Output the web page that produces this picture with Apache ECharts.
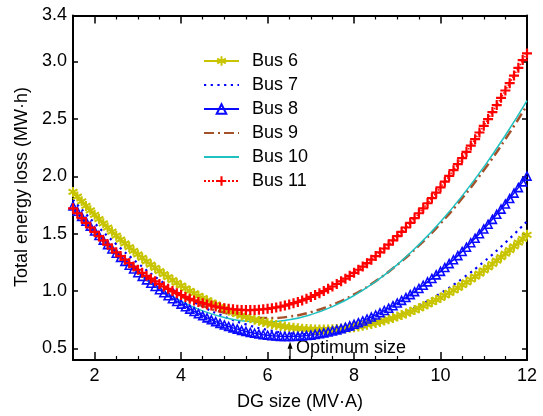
<!DOCTYPE html>
<html>
<head>
<meta charset="utf-8">
<script src="https://cdn.jsdelivr.net/npm/echarts@6/dist/echarts.min.js"></script>
<style>html,body{margin:0;padding:0;background:#fff}#c{width:543px;height:416px}</style>
</head>
<body>
<div id="c"></div>
<script>
// ---- data ----
const dgSize = [1.5,1.6,1.7,1.8,1.9,2.0,2.1,2.2,2.3,2.4,2.5,2.6,2.7,2.8,2.9,3.0,3.1,3.2,3.3,3.4,3.5,3.6,3.7,3.8,3.9,4.0,4.1,4.2,4.3,4.4,4.5,4.6,4.7,4.8,4.9,5.0,5.1,5.2,5.3,5.4,5.5,5.6,5.7,5.8,5.9,6.0,6.1,6.2,6.3,6.4,6.5,6.6,6.7,6.8,6.9,7.0,7.1,7.2,7.3,7.4,7.5,7.6,7.7,7.8,7.9,8.0,8.1,8.2,8.3,8.4,8.5,8.6,8.7,8.8,8.9,9.0,9.1,9.2,9.3,9.4,9.5,9.6,9.7,9.8,9.9,10.0,10.1,10.2,10.3,10.4,10.5,10.6,10.7,10.8,10.9,11.0,11.1,11.2,11.3,11.4,11.5,11.6,11.7,11.8,11.9,12.0];
const bus6 = [1.864,1.823,1.782,1.742,1.703,1.664,1.627,1.590,1.553,1.518,1.483,1.449,1.415,1.383,1.351,1.319,1.289,1.259,1.230,1.202,1.174,1.147,1.121,1.096,1.071,1.047,1.024,1.001,0.980,0.959,0.938,0.919,0.900,0.882,0.864,0.848,0.832,0.817,0.802,0.788,0.775,0.763,0.751,0.741,0.730,0.721,0.712,0.704,0.697,0.691,0.685,0.680,0.676,0.672,0.669,0.667,0.666,0.665,0.665,0.666,0.667,0.670,0.673,0.676,0.681,0.686,0.692,0.699,0.706,0.714,0.723,0.732,0.743,0.754,0.765,0.778,0.791,0.805,0.820,0.835,0.851,0.868,0.885,0.904,0.923,0.942,0.963,0.984,1.006,1.028,1.052,1.076,1.101,1.126,1.153,1.180,1.207,1.236,1.265,1.295,1.326,1.357,1.389,1.422,1.455,1.490];
const bus8 = [1.741,1.696,1.651,1.608,1.566,1.524,1.484,1.444,1.405,1.367,1.330,1.294,1.259,1.225,1.192,1.160,1.128,1.098,1.068,1.040,1.012,0.985,0.959,0.934,0.910,0.887,0.864,0.843,0.823,0.803,0.785,0.767,0.750,0.734,0.719,0.705,0.692,0.680,0.669,0.658,0.649,0.640,0.633,0.626,0.620,0.616,0.612,0.609,0.606,0.605,0.605,0.606,0.607,0.610,0.613,0.617,0.623,0.629,0.636,0.644,0.653,0.662,0.673,0.685,0.697,0.711,0.725,0.740,0.757,0.774,0.792,0.811,0.831,0.851,0.873,0.896,0.919,0.944,0.969,0.995,1.023,1.051,1.080,1.110,1.141,1.172,1.205,1.239,1.273,1.309,1.345,1.382,1.421,1.460,1.500,1.541,1.582,1.625,1.669,1.714,1.759,1.806,1.853,1.901,1.951,2.001];
const bus11 = [1.721,1.678,1.635,1.594,1.554,1.516,1.478,1.441,1.405,1.371,1.337,1.305,1.274,1.243,1.214,1.186,1.159,1.133,1.108,1.085,1.062,1.040,1.020,1.000,0.982,0.965,0.949,0.933,0.919,0.906,0.895,0.884,0.874,0.865,0.858,0.851,0.846,0.842,0.838,0.836,0.835,0.835,0.836,0.838,0.842,0.846,0.851,0.858,0.865,0.874,0.884,0.895,0.906,0.919,0.933,0.949,0.965,0.982,1.000,1.020,1.040,1.062,1.085,1.108,1.133,1.159,1.186,1.214,1.243,1.274,1.305,1.337,1.371,1.405,1.441,1.478,1.516,1.554,1.594,1.635,1.678,1.721,1.765,1.810,1.857,1.904,1.953,2.003,2.053,2.105,2.158,2.212,2.267,2.323,2.381,2.439,2.498,2.559,2.620,2.683,2.747,2.811,2.877,2.944,3.012,3.070];
const dgSizeCoarse = [1.5,2.0,2.5,3.0,3.5,4.0,4.5,5.0,5.5,6.0,6.5,7.0,7.5,8.0,8.5,9.0,9.5,10.0,10.5,11.0,11.5,12.0];
const bus7  = [1.796,1.592,1.408,1.243,1.097,0.971,0.865,0.778,0.710,0.662,0.634,0.625,0.636,0.666,0.715,0.784,0.873,0.981,1.108,1.255,1.422,1.608];
const bus9  = [1.721,1.520,1.343,1.190,1.060,0.954,0.871,0.812,0.777,0.765,0.778,0.817,0.881,0.971,1.087,1.229,1.396,1.589,1.808,2.053,2.323,2.619];
const bus10 = [1.718,1.505,1.318,1.157,1.022,0.912,0.828,0.770,0.737,0.731,0.750,0.795,0.865,0.961,1.083,1.231,1.405,1.604,1.829,2.080,2.357,2.659];
const seriesNames = ['Bus 6','Bus 7','Bus 8','Bus 9','Bus 10','Bus 11'];
const xMajorTicks = [2,4,6,8,10,12];
const xMinorTicks = [2.5,3,3.5,4.5,5,5.5,6.5,7,7.5,8.5,9,9.5,10.5,11,11.5];
const yTicks = [0.5,1.0,1.5,2.0,2.5,3.0];
const yLabels = [0.5,1.0,1.5,2.0,2.5,3.0,3.4];
const optimumX = 6.52;
const optimumLabel = 'Optimum size';

// ---- chart ----
const FONT = "'Liberation Sans', Arial, sans-serif";
const zip = (xs, ys) => xs.map((x, i) => [x, ys[i]]);
const asterisk = 'path://M-1,-5L1,-5L1,5L-1,5Z M3.83,3.366L-4.83,-1.634L-3.83,-3.366L4.83,1.634Z M-4.83,1.634L3.83,-3.366L4.83,-1.634L-3.83,3.366Z';
const plus = 'path://M-1.1,-5L1.1,-5L1.1,-1.1L5,-1.1L5,1.1L1.1,1.1L1.1,5L-1.1,5L-1.1,1.1L-5,1.1L-5,-1.1L-1.1,-1.1Z';

const chart = echarts.init(document.getElementById('c'), null, {renderer: 'canvas'});
const axisBase = (extra) => Object.assign({
  type: 'value', min: 1.5, max: 12,
  splitLine: {show: false},
  axisLine: {show: true, onZero: false, lineStyle: {color: '#000', width: 2}}
}, extra);

const opt = {
  animation: false,
  backgroundColor: '#fff',
  grid: {left: 73, right: 16, top: 15.5, bottom: 49.3, containLabel: false},
  xAxis: [
    axisBase({position: 'bottom',
      axisTick: {show: true, inside: true, length: 8, customValues: xMajorTicks, lineStyle: {color: '#000', width: 1.5}},
      axisLabel: {customValues: xMajorTicks, fontSize: 18, color: '#000', fontFamily: FONT, margin: 7, formatter: v => String(v)},
      name: 'DG size (MV·A)', nameLocation: 'middle', nameGap: 33,
      nameTextStyle: {fontSize: 18, color: '#000', fontFamily: FONT}}),
    axisBase({position: 'bottom', axisLine: {show: false, onZero: false},
      axisTick: {show: true, inside: true, length: 4, customValues: xMinorTicks, lineStyle: {color: '#000', width: 1.2}},
      axisLabel: {show: false}}),
    axisBase({position: 'top',
      axisTick: {show: true, inside: true, length: 8, customValues: xMajorTicks, lineStyle: {color: '#000', width: 1.5}},
      axisLabel: {show: false}}),
    axisBase({position: 'top', axisLine: {show: false, onZero: false},
      axisTick: {show: true, inside: true, length: 4, customValues: xMinorTicks, lineStyle: {color: '#000', width: 1.2}},
      axisLabel: {show: false}})
  ],
  yAxis: [
    {type: 'value', min: 0.4, max: 3.4, position: 'left', splitLine: {show: false},
      axisLine: {show: true, onZero: false, lineStyle: {color: '#000', width: 2}},
      axisTick: {show: true, inside: true, length: 5, customValues: yTicks, lineStyle: {color: '#000', width: 1.5}},
      axisLabel: {customValues: yLabels, fontSize: 18, color: '#000', fontFamily: FONT, margin: 6, formatter: v => v.toFixed(1)}},
    {type: 'value', min: 0.4, max: 3.4, position: 'right', splitLine: {show: false},
      axisLine: {show: true, onZero: false, lineStyle: {color: '#000', width: 2}},
      axisTick: {show: true, inside: true, length: 5, customValues: yTicks, lineStyle: {color: '#000', width: 1.5}},
      axisLabel: {show: false}}
  ],
  legend: {
    orient: 'vertical', left: 203, top: 52, padding: 0,
    itemWidth: 35, itemHeight: 12, itemGap: 6,
    textStyle: {fontSize: 18, color: '#000', fontFamily: FONT, lineHeight: 18, padding: [0, 0, 0, 8]},
    data: [
      {name: 'Bus 6'},
      {name: 'Bus 7', itemStyle: {opacity: 0}},
      {name: 'Bus 8'},
      {name: 'Bus 9', itemStyle: {opacity: 0}},
      {name: 'Bus 10', itemStyle: {opacity: 0}},
      {name: 'Bus 11'}
    ]
  },
  series: [
    {name: 'Bus 6', type: 'line', data: zip(dgSize, bus6), symbol: asterisk, symbolSize: 10, showAllSymbol: true,
      lineStyle: {color: '#c8c400', width: 1.5}, itemStyle: {color: '#c8c400'}, emphasis: {disabled: true}},
    {name: 'Bus 7', type: 'line', data: zip(dgSizeCoarse, bus7), smooth: true, symbol: 'none',
      lineStyle: {color: '#0000ff', width: 2.2, type: [2.2, 4.5]}, itemStyle: {color: '#0000ff'}, emphasis: {disabled: true}},
    {name: 'Bus 8', type: 'line', data: zip(dgSize, bus8), symbol: 'triangle', symbolSize: 8, showAllSymbol: true,
      lineStyle: {color: '#0a0aff', width: 1.5}, itemStyle: {color: 'rgba(255,255,255,0)', borderColor: '#0a0aff', borderWidth: 1.6}, emphasis: {disabled: true}},
    {name: 'Bus 9', type: 'line', data: zip(dgSizeCoarse, bus9), smooth: true, symbol: 'none',
      lineStyle: {color: '#a5522a', width: 2.5, type: [10, 4, 2, 4]}, itemStyle: {color: '#a5522a'}, emphasis: {disabled: true}},
    {name: 'Bus 10', type: 'line', data: zip(dgSizeCoarse, bus10), smooth: true, symbol: 'none',
      lineStyle: {color: '#1fc0c0', width: 1.5}, itemStyle: {color: '#1fc0c0'}, emphasis: {disabled: true}},
    {name: 'Bus 11', type: 'line', data: zip(dgSize, bus11), symbol: plus, symbolSize: 10, showAllSymbol: true,
      lineStyle: {color: '#ff0000', width: 1.5, type: 'dotted'}, itemStyle: {color: '#ff0000'}, emphasis: {disabled: true}}
  ]
};
chart.setOption(opt);

// annotations positioned through the chart's own scales
const pBase = chart.convertToPixel({xAxisIndex: 0, yAxisIndex: 0}, [optimumX, 0.4]);
const pTip = chart.convertToPixel({xAxisIndex: 0, yAxisIndex: 0}, [optimumX, 0.56]);
const pText = chart.convertToPixel({xAxisIndex: 0, yAxisIndex: 0}, [optimumX, 0.527]);
const pTitle = [22, (15.5 + 366.7) / 2 - 4];
chart.setOption({
  graphic: [
    {type: 'line', shape: {x1: pBase[0], y1: pBase[1], x2: pTip[0], y2: pTip[1] + 5}, style: {stroke: '#000', lineWidth: 1.2}},
    {type: 'polygon', shape: {points: [[pTip[0], pTip[1]], [pTip[0] - 2.5, pTip[1] + 7], [pTip[0] + 2.5, pTip[1] + 7]]}, style: {fill: '#000'}},
    {type: 'text', x: pText[0] + 6, y: pText[1] + 3, style: {text: optimumLabel, fontSize: 18, fontFamily: FONT, fill: '#000', align: 'left', verticalAlign: 'middle'}},
    {type: 'text', x: pTitle[0], y: pTitle[1], rotation: Math.PI / 2, style: {text: 'Total energy loss (MW·h)', fontSize: 18, fontFamily: FONT, fill: '#000', align: 'center', verticalAlign: 'middle'}}
  ]
});
</script>
</body>
</html>
